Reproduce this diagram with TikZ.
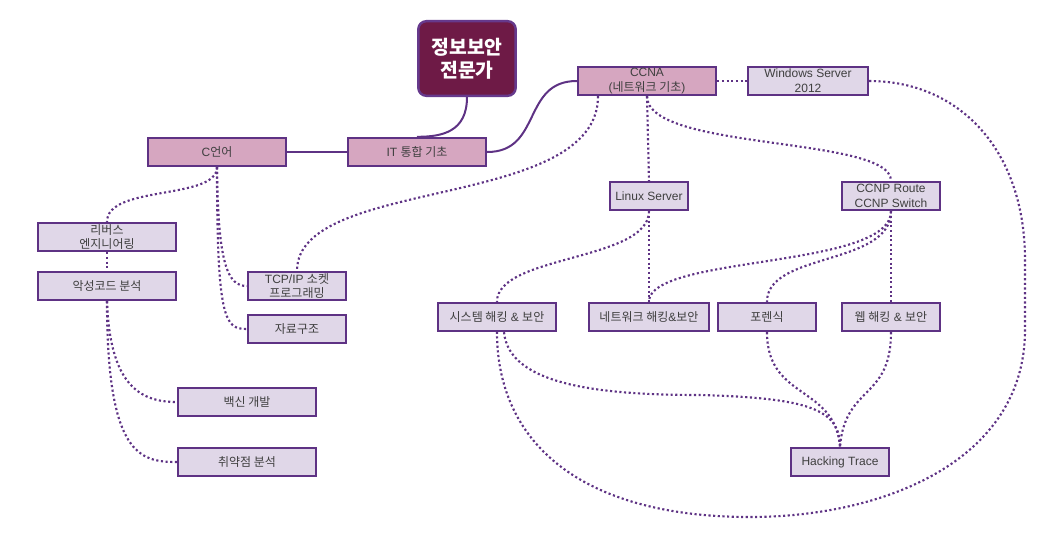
\documentclass[tikz,border=0pt]{standalone}
\usepackage{fontspec}
\setmainfont{Liberation Sans}
\newfontfamily\kr{Noto Sans CJK KR}
\usetikzlibrary{calc}
\definecolor{edgepurple}{HTML}{5E3284}
\definecolor{titleborder}{HTML}{66398C}
\definecolor{titlefill}{HTML}{6E1A46}
\definecolor{pinkfill}{HTML}{D6A6C0}
\definecolor{lightfill}{HTML}{E0D7E8}
\definecolor{labelgray}{HTML}{3F3F3F}
\begin{document}
\begin{tikzpicture}[x=0.75pt, y=-0.75pt,
  skill/.style={draw=edgepurple, line width=1.8pt, inner sep=0pt, minimum height=21pt, align=center, text=labelgray, font=\fontsize{9}{11.2}\selectfont},
  pinkbox/.style={skill, fill=pinkfill},
  lightbox/.style={skill, fill=lightfill},
  solidlink/.style={draw=edgepurple, line width=1.5pt},
  dotlink/.style={draw=edgepurple, line width=1.6pt, dash pattern=on 1.6pt off 1.9pt}]
\useasboundingbox (0,0) rectangle (1040,539);
\node[draw=titleborder, fill=titlefill, line width=1.8pt, rounded corners=6pt, minimum width=73pt, minimum height=56pt, text=white, align=center, font=\kr\bfseries\fontsize{14.5}{17}\selectfont] (title) at (467,58.5) {정보보안\\전문가};
\node[pinkbox, minimum width=103.5pt] (ccna) at (647,81) {CCNA\\({\kr 네트워크 기초})};
\node[lightbox, minimum width=90pt] (win) at (808,81) {Windows Server\\2012};
\node[pinkbox, minimum width=103.5pt] (it) at (417,152) {IT {\kr 통합 기초}};
\node[pinkbox, minimum width=103.5pt] (clang) at (217,152) {C{\kr 언어}};
\node[lightbox, minimum width=58.5pt] (linux) at (649,196) {Linux Server};
\node[lightbox, minimum width=73.5pt] (ccnp) at (891,196) {CCNP Route\\CCNP Switch};
\node[lightbox, minimum width=103.5pt] (rev) at (107,237) {{\kr 리버스}\\{\kr 엔지니어링}};
\node[lightbox, minimum width=103.5pt] (mal) at (107,286) {\kr 악성코드 분석};
\node[lightbox, minimum width=73.5pt] (tcp) at (297,286) {TCP/IP {\kr 소켓}\\{\kr 프로그래밍}};
\node[lightbox, minimum width=73.5pt] (ds) at (297,329) {\kr 자료구조};
\node[lightbox, minimum width=88.5pt] (sys) at (497,317) {{\kr 시스템 해킹} \& {\kr 보안}};
\node[lightbox, minimum width=90pt] (net) at (649,317) {{\kr 네트워크 해킹}\&{\kr 보안}};
\node[lightbox, minimum width=73.5pt] (fore) at (767,317) {\kr 포렌식};
\node[lightbox, minimum width=73.5pt] (web) at (891,317) {{\kr 웹 해킹} \& {\kr 보안}};
\node[lightbox, minimum width=103.5pt] (vac) at (247,402) {\kr 백신 개발};
\node[lightbox, minimum width=103.5pt] (vul) at (247,462) {\kr 취약점 분석};
\node[lightbox, minimum width=73.5pt] (trace) at (840,462) {Hacking Trace};
\coordinate (ccnaL) at ($(ccna.south)+(-49,0)$);
\coordinate (sysR) at ($(sys.south)+(7,0)$);
% solid links
\draw[solidlink] (title.south) .. controls +(0,35) and +(25,0) .. (it.north);
\path[solidlink] (clang) edge (it);
\draw[solidlink] (it.east) .. controls +(55,0) and +(-55,0) .. (ccna.west);
% dotted links
\path[dotlink] (ccna) edge (win);
\draw[dotlink] (win.east) .. controls +(90,0) and +(0,-110) .. (1025,260) -- (1025,330)
  .. controls +(0,130) and +(135,0) .. (750,517) .. controls +(-170,0) and +(0,110) .. (sys.south);
\draw[dotlink] (ccnaL) .. controls +(0,115) and +(0,-95) .. (tcp.north);
\path[dotlink] (ccna.south) edge (linux.north);
\draw[dotlink] (ccna.south) .. controls +(0,55) and +(0,-45) .. (ccnp.north);
\draw[dotlink] (linux.south) .. controls +(0,50) and +(0,-47) .. (sys.north);
\path[dotlink] (linux.south) edge (net.north);
\draw[dotlink] (ccnp.south) .. controls +(0,58) and +(0,-47) .. (net.north);
\draw[dotlink] (ccnp.south) .. controls +(0,55) and +(0,-50) .. (fore.north);
\path[dotlink] (ccnp.south) edge (web.north);
\draw[dotlink] (sysR) .. controls +(5,53) and +(-100,0) .. (700,395) .. controls +(110,3) and +(0,-37) .. (trace.north);
\draw[dotlink] (fore.south) .. controls +(0,68) and +(-5,-62) .. (trace.north);
\draw[dotlink] (web.south) .. controls +(0,68) and +(5,-62) .. (trace.north);
\draw[dotlink] (clang.south) .. controls +(0,33) and +(0,-37) .. (rev.north);
\draw[dotlink] (clang.south) .. controls +(1,98) and +(-19,0) .. (tcp.west);
\draw[dotlink] (clang.south) .. controls +(0,153) and +(-22,0) .. (ds.west);
\path[dotlink] (rev) edge (mal);
\draw[dotlink] (mal.south) .. controls +(3,84) and +(-37,0) .. (vac.west);
\draw[dotlink] (mal.south) .. controls +(0,154) and +(-37,0) .. (vul.west);
\end{tikzpicture}
\end{document}
